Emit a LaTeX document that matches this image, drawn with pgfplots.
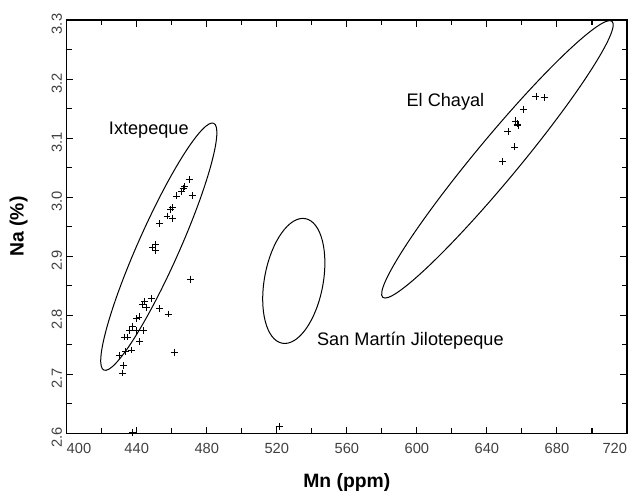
\documentclass[border=0pt]{standalone}
\usepackage{pgfplots}
\pgfplotsset{compat=1.18}
\usepackage{fontspec}
\setmainfont{Liberation Sans}

\begin{document}
\begin{tikzpicture}
\begin{axis}[
  width=420pt, height=309.75pt, scale only axis,
  xmin=400, xmax=720, ymin=2.6, ymax=3.3,
  xtick={400,440,480,520,560,600,640,680,720},
  xticklabels={\makebox[0pt][l]{400},440,480,520,560,600,640,680,\makebox[0pt][r]{720}},
  ytick={2.6,2.7,2.8,2.9,3.0,3.1,3.2,3.3},
  minor x tick num=1, minor y tick num=1,
  tick align=inside,
  major tick length=5pt, minor tick length=4pt,
  axis line style={line width=1pt},
  every tick/.style={black, line width=0.8pt},
  /pgf/number format/assume math mode=true,
  tick label style={font=\fontsize{11}{12}\selectfont, text=black!75},
  yticklabel style={rotate=90, anchor=south, xshift=-3pt, /pgf/number format/.cd, fixed, fixed zerofill, precision=1},
  xticklabel style={yshift=-4pt},
  xlabel={Mn (ppm)}, ylabel={Na (\%)},
  label style={font=\fontsize{14.5}{16}\selectfont\bfseries},
  xlabel style={at={(axis description cs:0.5,-0.119)}, anchor=center},
  ylabel style={at={(axis description cs:-0.086,0.5)}, anchor=center},
  clip=false,
]
% Ixtepeque
\addplot[only marks, mark=+, mark size=2.6pt, line width=0.6pt] coordinates {
(469.9,3.030) (471.6,3.003) (467.5,3.018) (466.5,3.015) (465.5,3.010)
(462.7,3.002) (460.2,2.982) (459.4,2.979) (457.3,2.968) (460.2,2.964)
(453.1,2.955) (450.7,2.920) (449.0,2.914) (450.9,2.910) (470.6,2.861)
(448.4,2.828) (444.6,2.823) (443.2,2.818) (445.5,2.813) (453.1,2.811)
(457.9,2.802) (441.3,2.797) (440.0,2.794) (437.5,2.781) (436.0,2.774)
(439.8,2.774) (444.0,2.774) (433.1,2.763) (434.5,2.763) (441.7,2.755)
(437.0,2.741) (433.5,2.738) (461.4,2.737) (429.9,2.732) (432.4,2.715)
(431.8,2.702) (437.5,2.602) (521.7,2.611)
};
% El Chayal
\addplot[only marks, mark=+, mark size=2.6pt, line width=0.6pt] coordinates {
(668.0,3.171) (672.7,3.169) (660.8,3.149) (656.2,3.129) (657.3,3.124)
(657.7,3.121) (652.0,3.111) (655.6,3.085) (649.0,3.061)
};
\draw[line width=0.75pt, rotate around={66:(axis cs:452.6,2.916)}] (axis cs:452.6,2.916) ellipse [x radius=101.25pt, y radius=15.4pt];
\draw[line width=0.75pt, rotate around={79.5:(axis cs:529.7,2.858)}] (axis cs:529.7,2.858) ellipse [x radius=47.5pt, y radius=22pt];
\draw[line width=0.75pt, rotate around={50.3:(axis cs:646.0,3.064)}] (axis cs:646.0,3.064) ellipse [x radius=134.5pt, y radius=16.1pt];
\node[font=\fontsize{13.6}{15}\selectfont] at (axis cs:446.9,3.114) {Ixtepeque};
\node[font=\fontsize{13.6}{15}\selectfont] at (axis cs:616.3,3.161) {El Chayal};
\node[font=\fontsize{13.6}{15}\selectfont] at (axis cs:596.3,2.756) {San Martín Jilotepeque};
\path ([shift={(-50pt,-45pt)}]rel axis cs:0,0) rectangle ([shift={(9.75pt,15pt)}]rel axis cs:1,1);
\end{axis}
\end{tikzpicture}
\end{document}
